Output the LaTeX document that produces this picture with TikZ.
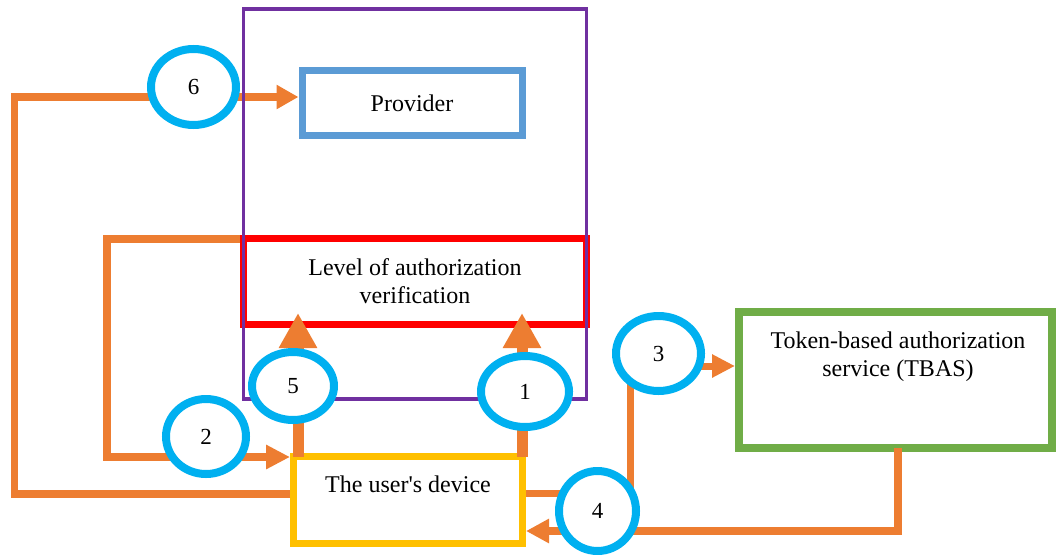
\documentclass[tikz,border=0pt]{standalone}
\usepackage{fontspec}
\setmainfont{Liberation Serif}
\usetikzlibrary{arrows.meta,shapes.geometric,calc}
\definecolor{orng}{HTML}{ED7D31}
\definecolor{cyanc}{HTML}{00B0F0}
\definecolor{provblue}{HTML}{5B9BD5}
\definecolor{redc}{HTML}{FF0000}
\definecolor{greenc}{HTML}{70AD47}
\definecolor{yellowc}{HTML}{FFC000}
\definecolor{purplec}{HTML}{7030A0}
\tikzset{
  box/.style={rectangle, inner sep=0pt, align=center, font=\fontsize{24}{28}\selectfont},
  numc/.style={ellipse, draw=cyanc, line width=8pt, fill=white, inner sep=0pt, font=\fontsize{23}{26}\selectfont},
  conn/.style={draw=orng, line width=7.5pt},
  thick5/.style={draw=orng, line width=11pt, -{Triangle[length=35pt,width=36pt]}},
  lbl/.style={inner sep=0pt, anchor=base, font=\fontsize{24}{28}\selectfont}
}
\begin{document}
\begin{tikzpicture}[x=1pt,y=-1pt]
\useasboundingbox (0,0) rectangle (1056,554);
% boxes
\node[box, draw=redc, line width=7pt, minimum width=343pt, minimum height=86pt] (red) at (415,281.5) {Level of authorization\\verification};
\node[box, draw=provblue, line width=7pt, minimum width=220pt, minimum height=65pt] (prov) at (412,103) {Provider};
\node[box, draw=greenc, line width=8pt, minimum width=313pt, minimum height=136pt] (green) at (895.5,380) {};
\node[lbl] (greentxt) at (898,348) {Token-based authorization};
\node[lbl] (greentxt2) at (898,376) {service (TBAS)};
\node[box, draw=yellowc, line width=7pt, minimum width=229pt, minimum height=87pt] (user) at (408,500) {};
\node[lbl] (usertxt) at (408,492) {The user\textquotesingle s device};
% connectors
\draw[conn, -{Triangle[length=22pt,width=23pt]}] ([yshift=6pt]user.west) -| (14.5,97) -- ([yshift=6pt]prov.west);
\draw[conn, -{Triangle[length=24pt,width=23pt]}] (red.west |- 0,239) -| (107,457) -- (user.west |- 0,457);
\draw[thick5] ([xshift=-110pt,yshift=-3.5pt]user.north) -- ([xshift=-110pt,yshift=15pt]user.north |- red.south);
\draw[thick5] ([xshift=114pt,yshift=-3.5pt]user.north) -- ([xshift=114pt,yshift=15pt]user.north |- red.south);
\draw[conn, line width=7pt, -{Triangle[length=23pt,width=22pt]}] ([yshift=7pt]user.east) -| (630,366) -- ([yshift=14pt]green.west);
\draw[conn, line width=7.5pt, -{Triangle[length=23pt,width=23pt]}] ([xshift=2.5pt,yshift=4pt]green.south) |- ([yshift=-31pt]user.east);
% provider frame
\node[rectangle, draw=purplec, line width=3.3pt, inner sep=0pt, minimum width=343pt, minimum height=390pt] (frame) at (415,204) {};
% numbered circles
\node[numc, minimum width=85pt, minimum height=76pt] (c6) at (193.5,87) {6};
\node[numc, minimum width=82pt, minimum height=68pt] (c5) at (293,386) {5};
\node[numc, minimum width=80pt, minimum height=75pt] (c2) at (206,436.5) {2};
\node[numc, minimum width=88pt, minimum height=71pt] (c1) at (525,391.5) {1};
\node[numc, minimum width=85pt, minimum height=75pt] (c3) at (658.5,353.5) {3};
\node[numc, minimum width=77pt, minimum height=80pt] (c4) at (597.5,511) {4};
\end{tikzpicture}
\end{document}
